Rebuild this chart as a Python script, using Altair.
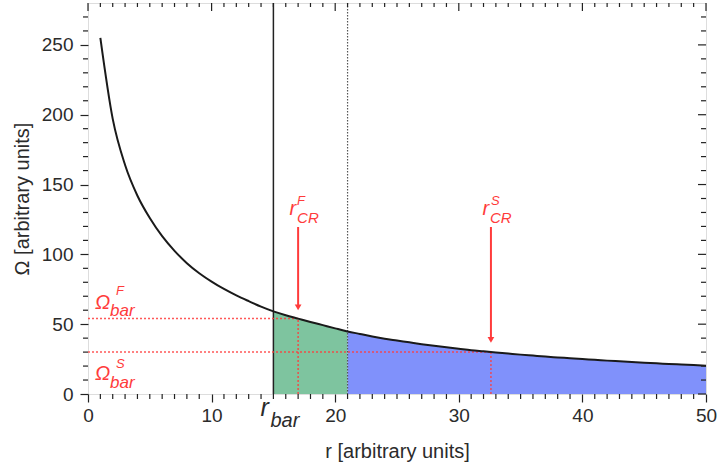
import altair as alt
import pandas as pd

# ---------------- data ----------------
r_vals = list(range(1, 51))
omega_vals = [255, 197, 164, 142, 126, 113, 102.5, 93.7, 86.5, 80.5,
              75.2, 70.6, 66.5, 62.6, 59.2, 56.4, 54, 51.6, 49.3, 47,
              44.8, 43, 41.2, 39.6, 38.3, 37, 35.7, 34.5, 33.4, 32.4,
              31.4, 30.6, 29.8, 29, 28.2, 27.5, 26.8, 26.2, 25.6, 25,
              24.5, 23.9, 23.4, 22.9, 22.4, 22, 21.5, 21.1, 20.7, 20.3]

r_bar = 15          # solid vertical line
r_edge = 21         # dotted vertical line (end of green region)
r_cr = [17, 32.6]   # corotation radii (F, S)
omega_bar = [54, 30]  # pattern speeds (F, S)
arrow_top = 119.6
arrow_tip = [62.0, 38.8]

x_major = [0, 10, 20, 30, 40, 50]
y_major = [0, 50, 100, 150, 200, 250]
x_minor = [v for v in range(0, 51) if v % 10]
y_minor = [v for v in range(0, 280, 10) if v % 50]

# ---------------- styling ----------------
W, H = 618, 391
FONT = "Liberation Sans"
AX = "#222222"
TXT = "#2b2b2b"
RED = "#ff3b3b"
GREEN = "#7ec49f"
BLUE = "#8091fb"

xs = alt.Scale(domain=[0, 50], nice=False, zero=False)
ys = alt.Scale(domain=[0, 280], nice=False, zero=False)

x_axis = alt.Axis(values=x_major, tickSize=8, tickWidth=1.2, tickColor=AX,
                  domain=False, grid=False, labelFlush=False,
                  labelFont=FONT, labelFontSize=19, labelColor=TXT, labelPadding=4,
                  title="r [arbitrary units]", titleFont=FONT, titleFontSize=20,
                  titleFontWeight="normal", titleColor=TXT, titleX=W / 2, titleY=63,
                  titleAlign="center", titleBaseline="alphabetic")
y_axis = alt.Axis(values=y_major, tickSize=8, tickWidth=1.2, tickColor=AX,
                  domain=False, grid=False, labelFlush=False,
                  labelFont=FONT, labelFontSize=19, labelColor=TXT, labelPadding=7,
                  title="Ω [arbitrary units]", titleFont=FONT, titleFontSize=20,
                  titleFontWeight="normal", titleColor=TXT, titleX=-60, titleY=H / 2,
                  titleAngle=-90, titleAlign="center", titleBaseline="alphabetic")


def X(field):
    return alt.X(field, scale=xs, axis=x_axis)


def Y(field):
    return alt.Y(field, scale=ys, axis=y_axis)


curve_df = pd.DataFrame({"r": r_vals, "omega": omega_vals})
base = alt.Chart(curve_df)

area_fast = base.transform_filter(
    (alt.datum.r >= r_bar) & (alt.datum.r <= r_edge)
).mark_area(color=GREEN, opacity=1, interpolate="monotone").encode(
    x=X("r:Q"), y=Y("omega:Q"))
area_slow = base.transform_filter(
    (alt.datum.r >= r_edge) & (alt.datum.r <= 50)
).mark_area(color=BLUE, opacity=1, interpolate="monotone").encode(
    x=X("r:Q"), y=Y("omega:Q"))

vline = alt.Chart(pd.DataFrame({"r": [r_bar]})).mark_rule(
    color=AX, strokeWidth=1.5).encode(x=X("r:Q"))
vdot = alt.Chart(pd.DataFrame({"r": [r_edge]})).mark_rule(
    color="#555555", strokeWidth=1.2, strokeDash=[1.5, 1.5]).encode(x=X("r:Q"))

hred_df = pd.DataFrame({"r": [0, 0], "r2": r_cr, "omega": omega_bar})
vred_df = pd.DataFrame({"r": r_cr, "omega": [0, 0], "omega2": omega_bar})
hred = alt.Chart(hred_df).mark_rule(color=RED, strokeWidth=1.5, strokeDash=[2, 2],
                                    opacity=0.85).encode(
    x=X("r:Q"), x2="r2:Q", y=Y("omega:Q"))
vred = alt.Chart(vred_df).mark_rule(color=RED, strokeWidth=1.5, strokeDash=[2, 2],
                                    opacity=0.85).encode(
    x=X("r:Q"), y=Y("omega:Q"), y2="omega2:Q")

curve = base.mark_line(color="#1a1a1a", strokeWidth=2, interpolate="monotone").encode(
    x=X("r:Q"), y=Y("omega:Q"))

arrow_df = pd.DataFrame({"r": r_cr, "omega": [arrow_top, arrow_top],
                         "omega2": [t + 1.5 for t in arrow_tip], "tip": arrow_tip})
arrow_shaft = alt.Chart(arrow_df).mark_rule(color=RED, strokeWidth=2).encode(
    x=X("r:Q"), y=Y("omega:Q"), y2="omega2:Q")
arrow_head = alt.Chart(arrow_df).mark_point(shape="triangle-down", filled=True,
                                            color=RED, opacity=1, size=45).encode(
    x=X("r:Q"), y=Y("tip:Q"))


def tick_rules(vals, channel, p1, p2):
    c = alt.Chart(pd.DataFrame({"r": vals, "omega": vals})).mark_rule(
        color=AX, strokeWidth=1.2)
    if channel == "x":
        return c.encode(x=X("r:Q"), y=alt.value(p1), y2=alt.value(p2))
    return c.encode(y=Y("omega:Q"), x=alt.value(p1), x2=alt.value(p2))


ticks = [
    tick_rules(x_minor, "x", H, H + 5),
    tick_rules(x_minor, "x", 0, 4),
    tick_rules(x_major, "x", 0, 8),
    tick_rules(y_minor, "y", -5, 0),
    tick_rules(y_minor, "y", W - 5, W),
    tick_rules(y_major, "y", W - 8, W),
]


def label(text, x, y, dx, dy, size, color=RED):
    df = pd.DataFrame({"r": [x], "omega": [y], "t": [text]})
    return alt.Chart(df).mark_text(align="left", baseline="alphabetic", dx=dx, dy=dy,
                                   font=FONT, fontSize=size, fontStyle="italic",
                                   color=color).encode(
        x=X("r:Q"), y=Y("omega:Q"), text="t:N")


labels = [
    # Omega_bar^F
    label("Ω", 0, omega_bar[0], 7, -9.5, 20),
    label("F", 0, omega_bar[0], 28, -23.5, 13),
    label("bar", 0, omega_bar[0], 22, -2.5, 17),
    # Omega_bar^S
    label("Ω", 0, omega_bar[1], 7, 28, 20),
    label("S", 0, omega_bar[1], 28, 16, 13),
    label("bar", 0, omega_bar[1], 22, 36, 17),
    # r_CR^F
    label("r", r_cr[0], arrow_top, -8.5, -12, 20),
    label("F", r_cr[0], arrow_top, -1, -22, 13),
    label("CR", r_cr[0], arrow_top, -1, -4, 15),
    # r_CR^S
    label("r", r_cr[1], arrow_top, -8.5, -12, 20),
    label("S", r_cr[1], arrow_top, 0, -22, 13),
    label("CR", r_cr[1], arrow_top, -1, -4, 15),
    # r_bar under the axis
    label("r", r_bar, 0, -13, 22, 25, TXT),
    label("bar", r_bar, 0, -3, 33, 20, TXT),
]

chart = alt.layer(
    area_fast, area_slow, vline, vdot, hred, vred, curve,
    arrow_shaft, arrow_head, *ticks, *labels
).properties(
    width=W, height=H,
    autosize=alt.AutoSizeParams(type="none"),
    padding={"left": 88, "top": 3, "right": 13, "bottom": 70},
).configure_view(stroke=AX, strokeWidth=1.5).configure(background="white")

chart.save("out.html", embed_options={"renderer": "svg", "actions": False})
